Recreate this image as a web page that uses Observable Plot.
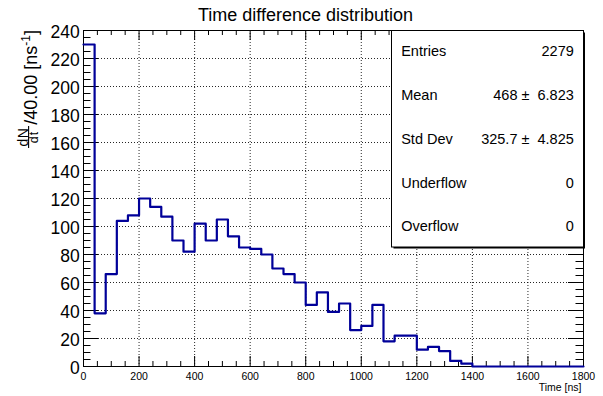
<!DOCTYPE html>
<html>
<head>
<meta charset="utf-8">
<script src="https://cdn.jsdelivr.net/npm/d3@7"></script>
<script src="https://cdn.jsdelivr.net/npm/@observablehq/plot@0.6"></script>
<style>
  body { margin: 0; background: #fff; }
  svg text { white-space: pre; }
</style>
</head>
<body>
<div id="chart"></div>
<script>
// Histogram definition: 45 bins of 40 ns from 0 to 1800 ns
const binWidth = 40;
const xMin = 0;
const xMax = 1800;
const counts = [230, 38, 66, 104, 108, 120, 114, 107, 90, 82,
                102, 90, 105, 93, 85, 84, 80, 70, 66, 60,
                44, 53, 39, 45, 26, 29, 44, 18, 22, 22,
                12, 14, 11, 4, 2, 0, 0, 0, 0, 0,
                0, 0, 0, 0, 0];

// Axis ticks
const xMajor = [0, 200, 400, 600, 800, 1000, 1200, 1400, 1600, 1800];
const xMinorStep = 50;
const yMajor = [0, 20, 40, 60, 80, 100, 120, 140, 160, 180, 200, 220, 240];
const yMinorStep = 5;

// Statistics box
const statLabels = ["Entries", "Mean", "Std Dev", "Underflow", "Overflow"];
const statValues = ["2279", "468 \u00b1  6.823", "325.7 \u00b1  4.825", "0", "0"];

const titleText = "Time difference distribution";
const xTitle = "Time [ns]";

// Layout
const W = 603, H = 396;
const mL = 83, mR = 20, mT = 30, mB = 30;
const fw = W - mL - mR, fh = H - mT - mB;
const font = "'Liberation Sans', Arial, Helvetica, sans-serif";

// Step outline of the histogram (left edge of each bin, plus closing edge)
const steps = counts.map((c, i) => ({x: xMin + i * binWidth, y: c}));
steps.push({x: xMax, y: counts[counts.length - 1]});

const xMinor = d3.range(xMin, xMax + 1, xMinorStep).filter(v => !xMajor.includes(v));
const yMinor = d3.range(0, 241, yMinorStep).filter(v => !yMajor.includes(v));
const xGrid = xMajor.filter(v => v > xMin && v < xMax);
const yGrid = yMajor.filter(v => v > 0 && v < 240);

const gridStyle = {stroke: "#000", strokeOpacity: 0.85, strokeDasharray: "1,2"};
const rowY = i => 21.3 + i * 43.7;

const chart = Plot.plot({
  width: W,
  height: H,
  marginLeft: mL,
  marginRight: mR,
  marginTop: mT,
  marginBottom: mB,
  x: {domain: [xMin, xMax], axis: null},
  y: {domain: [0, 240], axis: null},
  style: {fontFamily: font, background: "#fff", color: "#000", overflow: "visible"},
  marks: [
    // dotted grid
    Plot.ruleX(xGrid, gridStyle),
    Plot.ruleY(yGrid, gridStyle),
    // ticks on all four sides, pointing inward
    Plot.tickX(xMajor, {stroke: "#000", insetTop: fh - 10}),
    Plot.tickX(xMinor, {stroke: "#000", insetTop: fh - 5}),
    Plot.tickX(xMajor, {stroke: "#000", insetBottom: fh - 10}),
    Plot.tickX(xMinor, {stroke: "#000", insetBottom: fh - 5}),
    Plot.tickY(yMajor, {stroke: "#000", insetRight: fw - 15}),
    Plot.tickY(yMinor, {stroke: "#000", insetRight: fw - 7.5}),
    Plot.tickY(yMajor, {stroke: "#000", insetLeft: fw - 15}),
    Plot.tickY(yMinor, {stroke: "#000", insetLeft: fw - 7.5}),
    Plot.frame({stroke: "#000"}),
    // histogram outline
    Plot.line(steps, {x: "x", y: "y", curve: "step-after", stroke: "#000099", strokeWidth: 2.2}),
    // tick labels
    Plot.text(yMajor, {y: d => d, text: d => String(d), frameAnchor: "left", textAnchor: "end",
                       lineAnchor: "middle", dx: -3.7, dy: 1.5, fontSize: 17.5, fill: "#000"}),
    Plot.text(xMajor, {x: d => d, text: d => String(d), frameAnchor: "bottom", textAnchor: "middle",
                       lineAnchor: "middle", dy: 10.5, fontSize: 10.5, fill: "#000"}),
    Plot.text([xTitle], {text: d => d, frameAnchor: "bottom-right", textAnchor: "end",
                         lineAnchor: "middle", dx: -2, dy: 21.5, fontSize: 10.5, fill: "#000"}),
    // title
    Plot.text([titleText], {text: d => d, frameAnchor: "top-left", textAnchor: "middle",
                            lineAnchor: "bottom", dx: 305 - mL, dy: -10, fontSize: 18, fill: "#000"}),
    // statistics box with shadow
    Plot.frame({fill: "#000", stroke: "none", insetLeft: 310, insetTop: 2, insetRight: -1.5, insetBottom: 118}),
    Plot.frame({fill: "#fff", stroke: "#000", insetLeft: 308, insetBottom: 119.5}),
    ...statLabels.map((s, i) => Plot.text([s], {text: d => d, frameAnchor: "top-left", textAnchor: "start",
                       lineAnchor: "middle", dx: 317.7, dy: rowY(i), fontSize: 14.5, fill: "#000"})),
    ...statValues.map((s, i) => Plot.text([s], {text: d => d, frameAnchor: "top-right", textAnchor: "end",
                       lineAnchor: "middle", dx: -9.7, dy: rowY(i), fontSize: 14.5, fill: "#000"}))
  ]
});

// y-axis title: dN/dt fraction followed by the bin-width normalisation
const svg = d3.select(chart);
const yt = svg.append("g").attr("font-family", font).attr("fill", "#000");

const main = yt.append("text")
  .attr("transform", `translate(37.3,${mT}) rotate(-90)`)
  .attr("text-anchor", "end")
  .attr("font-size", 18);
main.append("tspan").text("/40.00 [ns");
main.append("tspan").attr("font-size", 12).attr("dy", -7).text("-1");
main.append("tspan").attr("dy", 7).text("]");

const fracY = 137;
yt.append("text")
  .attr("transform", `translate(27.6,${fracY}) rotate(-90)`)
  .attr("text-anchor", "middle").attr("font-size", 14).attr("letter-spacing", 0.5).text("dN");
yt.append("text")
  .attr("transform", `translate(38,${fracY}) rotate(-90)`)
  .attr("text-anchor", "middle").attr("font-size", 12.5).attr("letter-spacing", 1).text("dt");
yt.append("line")
  .attr("x1", 28.6).attr("x2", 28.6).attr("y1", fracY - 11).attr("y2", fracY + 11)
  .attr("stroke", "#000").attr("stroke-width", 1.1);

document.getElementById("chart").appendChild(chart);
</script>
</body>
</html>
